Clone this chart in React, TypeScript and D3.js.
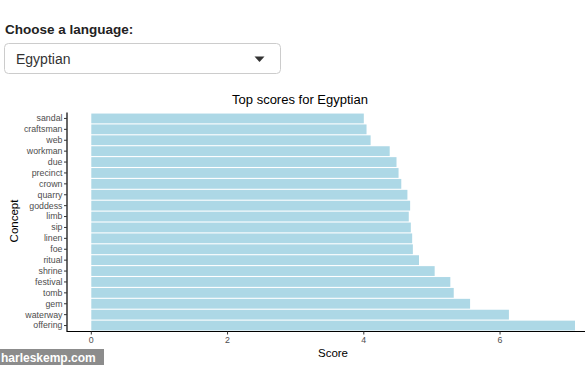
import React from "react";
import * as d3 from "d3";

const concepts = ["sandal", "craftsman", "web", "workman", "due", "precinct", "crown", "quarry", "goddess", "limb", "sip", "linen", "foe", "ritual", "shrine", "festival", "tomb", "gem", "waterway", "offering"];
const scores = [4.0, 4.04, 4.1, 4.38, 4.48, 4.51, 4.55, 4.64, 4.68, 4.66, 4.69, 4.71, 4.72, 4.81, 5.04, 5.27, 5.32, 5.56, 6.13, 7.1];
const xTicks = [0, 2, 4, 6];
const language = "Egyptian";

const W = 585;
const H = 367;
const FONT = "'Liberation Sans', Arial, Helvetica, sans-serif";

export default function App() {
  const x = d3.scaleLinear().domain([0, 7.1]).range([91.3, 575]);
  const y = d3.scaleBand<string>().domain(concepts).range([113, 331]).paddingInner(0.1).paddingOuter(0.05);
  const axisLeft = 67;
  const axisBottom = 331.5;

  return (
    <svg width={W} height={H} style={{ position: "absolute", left: 0, top: 0, background: "#fff" }} fontFamily={FONT}>
      {/* select input */}
      <text x={5} y={34} fontSize={13.5} fontWeight="bold" fill="#222">Choose a language:</text>
      <rect x={4.5} y={43.5} width={276} height={30} rx={4} fill="#fff" stroke="#ccc" />
      <text x={16} y={64} fontSize={14} fill="#333">{language}</text>
      <path d="M254.5,56.5 L264.5,56.5 L259.5,62 Z" fill="#333" />

      {/* title */}
      <text x={300} y={104} fontSize={13} textAnchor="middle" fill="#000">{`Top scores for ${language}`}</text>

      {/* bars */}
      {concepts.map((c, i) => (
        <rect key={c} x={x(0)} y={y(c)!} width={x(scores[i]) - x(0)} height={y.bandwidth()} fill="#ADD8E6" />
      ))}

      {/* y axis */}
      <line x1={axisLeft} x2={axisLeft} y1={112.5} y2={axisBottom + 0.5} stroke="#000" strokeWidth={1.2} />
      {concepts.map((c) => {
        const cy = y(c)! + y.bandwidth() / 2;
        return (
          <g key={c}>
            <line x1={axisLeft - 3} x2={axisLeft} y1={cy} y2={cy} stroke="#333" strokeWidth={1} />
            <text x={axisLeft - 4.5} y={cy} dy="0.33em" fontSize={8.8} textAnchor="end" fill="#4d4d4d">{c}</text>
          </g>
        );
      })}

      {/* x axis */}
      <line x1={axisLeft} x2={W} y1={axisBottom} y2={axisBottom} stroke="#000" strokeWidth={1.2} />
      {xTicks.map((t) => (
        <g key={t}>
          <line x1={x(t)} x2={x(t)} y1={axisBottom} y2={axisBottom + 3} stroke="#333" />
          <text x={x(t)} y={343} fontSize={8.8} textAnchor="middle" fill="#4d4d4d">{t}</text>
        </g>
      ))}

      {/* axis titles */}
      <text x={333} y={357} fontSize={11.5} textAnchor="middle" fill="#000">Score</text>
      <text transform="translate(18,221) rotate(-90)" fontSize={11.5} textAnchor="middle" fill="#000">Concept</text>

      {/* watermark */}
      <rect x={0} y={349} width={104} height={16} fill="#8c8c8c" />
      <text x={1} y={361.5} fontSize={12} fontWeight="bold" fill="#fff">harleskemp.com</text>
    </svg>
  );
}
